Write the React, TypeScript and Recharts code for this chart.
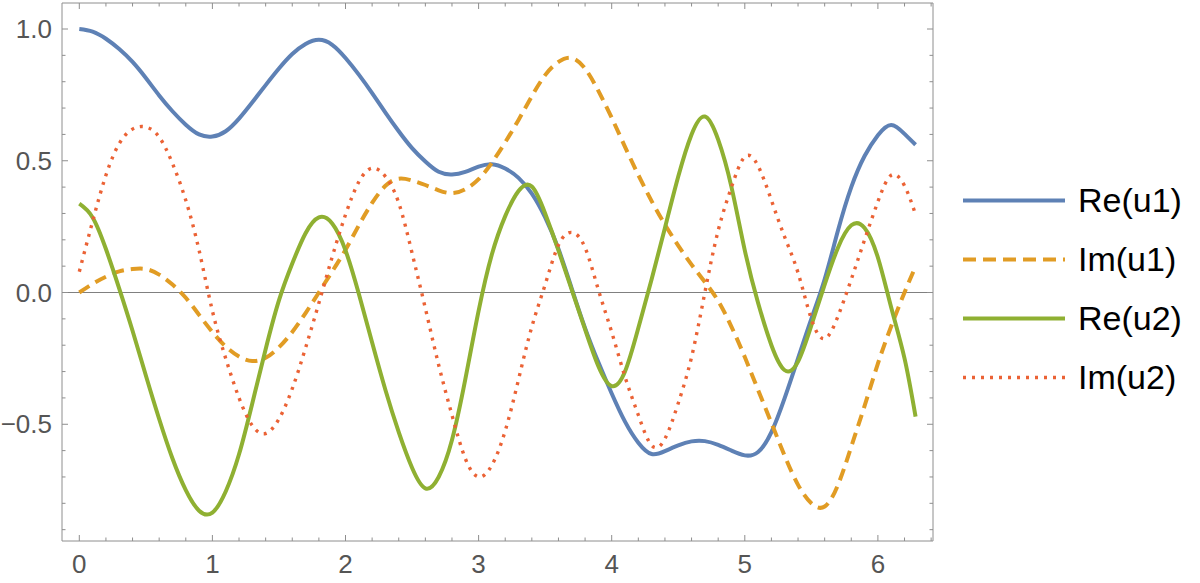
import { LineChart, Line, XAxis, YAxis, ReferenceLine, Legend } from "recharts";

// sample points along t (0 .. 2π)
const tValues = [
  0, 0.1, 0.2, 0.3, 0.4, 0.5, 0.6, 0.7, 0.8, 0.9, 1.0, 1.1, 1.2, 1.3, 1.4, 1.5,
  1.6, 1.7, 1.8, 1.9, 2.0, 2.1, 2.2, 2.3, 2.4, 2.5, 2.6, 2.7, 2.8, 2.9, 3.0, 3.1,
  3.2, 3.3, 3.4, 3.5, 3.6, 3.7, 3.8, 3.9, 4.0, 4.1, 4.2, 4.3, 4.4, 4.5, 4.6, 4.7,
  4.8, 4.9, 5.0, 5.1, 5.2, 5.3, 5.4, 5.5, 5.6, 5.7, 5.8, 5.9, 6.0, 6.1, 6.2, 6.283,
];

const reU1 = [
  1.0, 0.99, 0.963, 0.924, 0.875, 0.814, 0.748, 0.688, 0.637, 0.6, 0.592, 0.612,
  0.66, 0.722, 0.787, 0.85, 0.905, 0.943, 0.959, 0.94, 0.89, 0.827, 0.757, 0.683,
  0.612, 0.548, 0.497, 0.458, 0.448, 0.458, 0.478, 0.487, 0.471, 0.435, 0.375, 0.285,
  0.165, 0.015, -0.135, -0.265, -0.383, -0.49, -0.57, -0.613, -0.602, -0.58, -0.565, -0.564,
  -0.578, -0.6, -0.618, -0.605, -0.53, -0.4, -0.25, -0.1, 0.05, 0.235, 0.4, 0.518,
  0.597, 0.636, 0.602, 0.561,
];

const imU1 = [
  0.0, 0.033, 0.06, 0.08, 0.089, 0.089, 0.068, 0.03, -0.02, -0.085, -0.15, -0.205,
  -0.243, -0.26, -0.248, -0.208, -0.15, -0.078, 0.0, 0.08, 0.162, 0.255, 0.34, 0.405,
  0.432, 0.425, 0.408, 0.388, 0.377, 0.392, 0.43, 0.493, 0.57, 0.655, 0.745, 0.825,
  0.875, 0.89, 0.85, 0.765, 0.663, 0.553, 0.446, 0.347, 0.258, 0.178, 0.106, 0.04,
  -0.032, -0.13, -0.245, -0.37, -0.495, -0.62, -0.73, -0.8, -0.812, -0.73, -0.585, -0.43,
  -0.27, -0.128, 0.0, 0.099,
];

const reU2 = [
  0.337, 0.285, 0.165, 0.015, -0.145, -0.315, -0.48, -0.63, -0.75, -0.828, -0.835, -0.755,
  -0.614, -0.42, -0.215, -0.03, 0.11, 0.225, 0.285, 0.262, 0.16, -0.005, -0.19, -0.37,
  -0.53, -0.665, -0.743, -0.7, -0.56, -0.33, -0.07, 0.145, 0.29, 0.385, 0.402, 0.3,
  0.16, 0.01, -0.14, -0.28, -0.355, -0.3, -0.135, 0.05, 0.245, 0.44, 0.6, 0.668,
  0.58, 0.4, 0.16, -0.04, -0.2, -0.295, -0.262, -0.125, 0.03, 0.17, 0.255, 0.245,
  0.133, -0.057, -0.25, -0.471,
];

const imU2 = [
  0.079, 0.27, 0.445, 0.565, 0.62, 0.628, 0.59, 0.49, 0.35, 0.16, -0.07, -0.25,
  -0.4, -0.505, -0.535, -0.48, -0.365, -0.21, -0.04, 0.135, 0.295, 0.42, 0.472, 0.44,
  0.34, 0.15, -0.06, -0.275, -0.465, -0.63, -0.7, -0.655, -0.525, -0.33, -0.13, 0.03,
  0.18, 0.228, 0.17, 0.01, -0.15, -0.32, -0.465, -0.58, -0.555, -0.42, -0.245, 0.0,
  0.235, 0.4, 0.515, 0.48, 0.35, 0.21, 0.075, -0.1, -0.175, -0.09, 0.05, 0.2,
  0.345, 0.445, 0.405, 0.296,
];

const seriesNames = ["Re(u1)", "Im(u1)", "Re(u2)", "Im(u2)"];

const xTicks = [
  0, 0.2, 0.4, 0.6, 0.8, 1, 1.2, 1.4, 1.6, 1.8, 2, 2.2, 2.4, 2.6, 2.8, 3, 3.2,
  3.4, 3.6, 3.8, 4, 4.2, 4.4, 4.6, 4.8, 5, 5.2, 5.4, 5.6, 5.8, 6, 6.2, 6.4,
];
const yTicks = [
  -0.9, -0.8, -0.7, -0.6, -0.5, -0.4, -0.3, -0.2, -0.1, 0, 0.1, 0.2, 0.3, 0.4,
  0.5, 0.6, 0.7, 0.8, 0.9, 1.0,
];

const FRAME = "#8e8e8e";
const LABEL = "#555555";
const FONT = "'Liberation Sans', Arial, Helvetica, sans-serif";

const data = tValues.map((t, i) => ({
  t,
  re1: reU1[i],
  im1: imU1[i],
  re2: reU2[i],
  im2: imU2[i],
}));

const series = [
  { key: "re1", name: seriesNames[0], color: "#5E81B5", dash: undefined, legendDash: undefined, width: 4 },
  { key: "im1", name: seriesNames[1], color: "#E19C24", dash: "12 7", legendDash: "13 7", width: 4 },
  { key: "re2", name: seriesNames[2], color: "#8FB032", dash: undefined, legendDash: undefined, width: 4 },
  { key: "im2", name: seriesNames[3], color: "#EB6235", dash: "3 6", legendDash: "3 6", width: 3.4 },
];

const isMajorX = (v: number) => Math.abs(v - Math.round(v)) < 1e-6;
const isMajorY = (v: number) => Math.abs(v * 2 - Math.round(v * 2)) < 1e-6;

const fmtY = (v: number) => (v < 0 ? "\u2212" : "") + Math.abs(v).toFixed(1);

const BottomTick = (props: any) => {
  const { x, y, payload } = props;
  const major = isMajorX(payload.value);
  return (
    <g>
      <line x1={x} x2={x} y1={y} y2={y - (major ? 6 : 3.5)} stroke={FRAME} strokeWidth={1} />
      {major && (
        <text x={x} y={y + 32} textAnchor="middle" fill={LABEL} fontSize={26} fontFamily={FONT}>
          {Math.round(payload.value)}
        </text>
      )}
    </g>
  );
};

const TopTick = (props: any) => {
  const { x, y, payload } = props;
  const major = isMajorX(payload.value);
  return <line x1={x} x2={x} y1={y} y2={y + (major ? 6 : 3.5)} stroke={FRAME} strokeWidth={1} />;
};

const LeftTick = (props: any) => {
  const { x, y, payload } = props;
  const major = isMajorY(payload.value);
  return (
    <g>
      <line x1={x} x2={x + (major ? 6 : 3.5)} y1={y} y2={y} stroke={FRAME} strokeWidth={1} />
      {major && (
        <text x={x - 10} y={y + 9} textAnchor="end" fill={LABEL} fontSize={26} fontFamily={FONT}>
          {fmtY(payload.value)}
        </text>
      )}
    </g>
  );
};

const RightTick = (props: any) => {
  const { x, y, payload } = props;
  const major = isMajorY(payload.value);
  return <line x1={x} x2={x - (major ? 6 : 3.5)} y1={y} y2={y} stroke={FRAME} strokeWidth={1} />;
};

const renderLegend = () => (
  <div style={{ fontFamily: FONT }}>
    {series.map((s) => (
      <div key={s.key} style={{ display: "flex", alignItems: "center", height: 59 }}>
        <svg width={102} height={59}>
          <line
            x1={0}
            x2={102}
            y1={29.5}
            y2={29.5}
            stroke={s.color}
            strokeWidth={s.width}
            strokeDasharray={s.legendDash}
          />
        </svg>
        <span style={{ marginLeft: 13, fontSize: 34, color: "#000" }}>{s.name}</span>
      </div>
    ))}
  </div>
);

export default function App() {
  return (
    <div style={{ position: "absolute", left: 0, top: 0, width: 1200, height: 583, background: "#fff" }}>
      <LineChart width={1200} height={583} data={data} margin={{ top: 2, right: 266, bottom: 0, left: 0 }}>
        <XAxis
          xAxisId="b"
          dataKey="t"
          type="number"
          domain={[-0.13, 6.414]}
          allowDataOverflow
          ticks={xTicks}
          interval={0}
          tickSize={0}
          tickMargin={0}
          tickLine={false}
          tick={<BottomTick />}
          axisLine={{ stroke: FRAME, strokeWidth: 1 }}
          height={42}
        />
        <XAxis
          xAxisId="t"
          orientation="top"
          dataKey="t"
          type="number"
          domain={[-0.13, 6.414]}
          allowDataOverflow
          ticks={xTicks}
          interval={0}
          tickSize={0}
          tickMargin={0}
          tickLine={false}
          tick={<TopTick />}
          axisLine={{ stroke: FRAME, strokeWidth: 1 }}
          height={1}
        />
        <YAxis
          yAxisId="l"
          type="number"
          domain={[-0.943, 1.0987]}
          allowDataOverflow
          ticks={yTicks}
          interval={0}
          tickSize={0}
          tickMargin={0}
          tickLine={false}
          tick={<LeftTick />}
          axisLine={{ stroke: FRAME, strokeWidth: 1 }}
          width={62}
        />
        <YAxis
          yAxisId="r"
          orientation="right"
          type="number"
          domain={[-0.943, 1.0987]}
          allowDataOverflow
          ticks={yTicks}
          interval={0}
          tickSize={0}
          tickMargin={0}
          tickLine={false}
          tick={<RightTick />}
          axisLine={{ stroke: FRAME, strokeWidth: 1 }}
          width={1}
        />
        <ReferenceLine xAxisId="b" yAxisId="l" y={0} stroke="#808080" strokeWidth={1} />
        {series.map((s) => (
          <Line
            key={s.key}
            xAxisId="b"
            yAxisId="l"
            dataKey={s.key}
            name={s.name}
            type="natural"
            stroke={s.color}
            strokeWidth={s.width}
            strokeDasharray={s.dash}
            dot={false}
            activeDot={false}
            isAnimationActive={false}
          />
        ))}
        <Legend
          layout="vertical"
          align="center"
          verticalAlign="middle"
          content={renderLegend}
          wrapperStyle={{ left: 963, top: 171, width: 237 }}
        />
      </LineChart>
    </div>
  );
}
